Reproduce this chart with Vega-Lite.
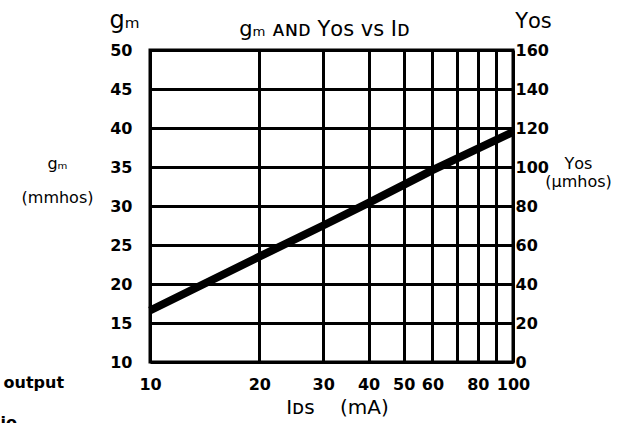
{
  "$schema": "https://vega.github.io/schema/vega-lite/v6.json",
  "width": 363,
  "height": 312,
  "autosize": "none",
  "padding": {"left": 150, "top": 50, "right": 109, "bottom": 61},
  "background": "white",
  "config": {
    "view": {"stroke": "black", "strokeWidth": 3},
    "font": "DejaVu Sans",
    "axis": {
      "labelFont": "DejaVu Sans",
      "labelFontWeight": "bold",
      "labelFontSize": 16,
      "labelColor": "black",
      "titleFont": "DejaVu Sans",
      "titleFontWeight": "normal",
      "titleColor": "black",
      "ticks": false,
      "domain": false,
      "gridColor": "black",
      "gridWidth": 3,
      "gridOpacity": 1,
      "labelFlush": false,
      "labelOverlap": false
    },
    "title": {"font": "DejaVu Sans", "fontWeight": "normal", "color": "black"}
  },
  "title": {"text": "gₘ ᴀɴᴅ Yᴏꜱ ᴠꜱ Iᴅ", "fontSize": 21, "anchor": "middle", "offset": 14, "dx": -7, "dy": 46},
  "data": {
    "values": [
      {"ids": 10, "gm": 16.6, "yos": 26.4},
      {"ids": 20, "gm": 23.5, "yos": 54.0},
      {"ids": 30, "gm": 27.5, "yos": 70.0},
      {"ids": 40, "gm": 30.4, "yos": 81.6},
      {"ids": 60, "gm": 34.6, "yos": 98.4},
      {"ids": 100, "gm": 39.5, "yos": 118.0}
    ]
  },
  "resolve": {
    "scale": {"y": "independent"},
    "axis": {"x": "independent", "y": "independent"}
  },
  "layer": [
    {
      "mark": {"type": "line", "strokeOpacity": 0},
      "encoding": {
        "x": {"field": "ids", "type": "quantitative", "scale": {"type": "log", "domain": [10, 100]},
          "axis": {"orient": "bottom", "labels": false, "grid": false, "title": "output", "titleFontWeight": "bold", "titleFontSize": 16, "titleAngle": 0, "titleAlign": "left", "titleBaseline": "alphabetic", "titleX": -147, "titleY": 25}},
        "y": {"field": "yos", "type": "quantitative", "scale": {"domain": [0, 160]},
          "axis": {"orient": "right", "values": [0, 20, 40, 60, 80, 100, 120, 140, 160], "grid": false, "labelPadding": 2, "labelBaseline": "middle", "title": "Yᴏꜱ", "titleFontSize": 21, "titleAngle": 0, "titleAlign": "center", "titleBaseline": "alphabetic", "titleX": 20, "titleY": -23}}
      }
    },
    {
      "mark": {"type": "line", "strokeOpacity": 0},
      "encoding": {
        "x": {"field": "ids", "type": "quantitative", "scale": {"type": "log", "domain": [10, 100]},
          "axis": {"orient": "bottom", "labels": false, "grid": false, "title": "io", "titleFontWeight": "bold", "titleFontSize": 16, "titleAngle": 0, "titleAlign": "left", "titleBaseline": "alphabetic", "titleX": -150, "titleY": 65}},
        "y": {"field": "gm", "type": "quantitative", "scale": {"domain": [10, 50]},
          "axis": {"orient": "left", "labels": false, "grid": false, "title": ["gₘ", "(mmhos)"], "titleFontSize": 16, "titleLineHeight": 34, "titleAngle": 0, "titleAlign": "center", "titleBaseline": "alphabetic", "titleX": -93, "titleY": 118}}
      }
    },
    {
      "mark": {"type": "line", "strokeOpacity": 0},
      "encoding": {
        "x": {"field": "ids", "type": "quantitative", "scale": {"type": "log", "domain": [10, 100]}, "axis": null},
        "y": {"field": "yos", "type": "quantitative", "scale": {"domain": [0, 160]},
          "axis": {"orient": "right", "labels": false, "grid": false, "title": ["Yᴏꜱ", "(µmhos)"], "titleFontSize": 16, "titleLineHeight": 18, "titleAngle": 0, "titleAlign": "center", "titleBaseline": "alphabetic", "titleX": 65, "titleY": 118}}
      }
    },
    {
      "mark": {"type": "line", "color": "black", "strokeWidth": 8, "strokeCap": "butt"},
      "encoding": {
        "x": {"field": "ids", "type": "quantitative", "scale": {"type": "log", "domain": [10, 100]},
          "axis": {"orient": "bottom", "grid": true, "values": [10, 20, 30, 40, 50, 60, 70, 80, 90, 100], "labelExpr": "datum.value == 70 || datum.value == 90 ? '' : '' + datum.value", "labelPadding": 14, "title": "Iᴅꜱ\u00a0\u00a0\u00a0\u00a0(mA)", "titleFontSize": 20, "titleAngle": 0, "titleAlign": "center", "titleBaseline": "alphabetic", "titleX": 187, "titleY": 51}},
        "y": {"field": "gm", "type": "quantitative", "scale": {"domain": [10, 50]},
          "axis": {"orient": "left", "grid": true, "values": [10, 15, 20, 25, 30, 35, 40, 45, 50], "labelPadding": 18, "labelBaseline": "middle", "title": "gₘ", "titleFontSize": 24, "titleAngle": 0, "titleAlign": "center", "titleBaseline": "alphabetic", "titleX": -26, "titleY": -23}}
      }
    }
  ]
}
